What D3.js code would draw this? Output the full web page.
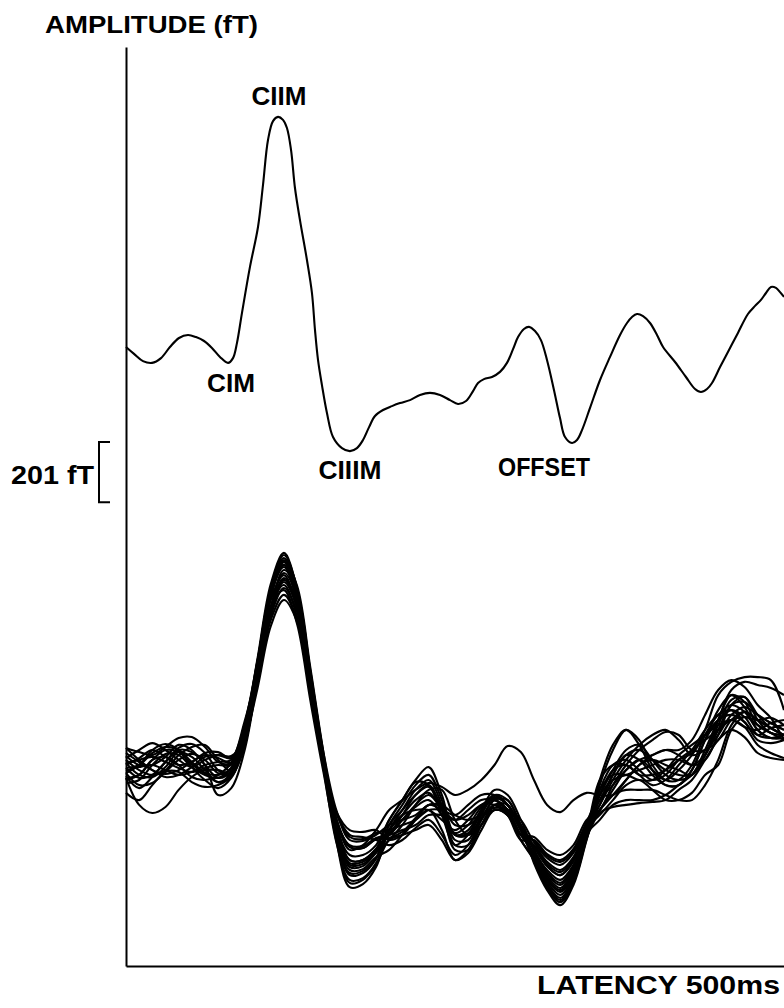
<!DOCTYPE html>
<html>
<head>
<meta charset="utf-8">
<script src="https://cdn.jsdelivr.net/npm/d3@7"></script>
<style>
  html, body { margin: 0; padding: 0; background: #fff; }
  svg { display: block; }
  text { font-family: "Liberation Sans", Arial, Helvetica, sans-serif; font-weight: bold; fill: #000; }
</style>
</head>
<body>
<svg id="chart" width="784" height="1008"></svg>
<script>
// ---- averaged response (upper trace): latency in ms, amplitude in fT ----
const averageLatency = [0, 6.1, 12.9, 19.8, 26.6, 33.4, 40.3, 47.1, 53.2, 59.3, 65.3, 71.4, 77.5, 81.3, 84.3, 88.1,
  94.2, 100.3, 104.1, 107.9, 111.7, 115.5, 119.3, 122.3, 125.4, 128.4, 132.2, 137.5, 141.3, 143.6, 145.9, 148.9,
  152.7, 157.3, 164.1, 170.2, 175.5, 180.1, 184.7, 189.2, 195.3, 202.1, 208.2, 215.8, 223.4, 231.0, 238.6, 246.2,
  252.3, 258.4, 263.7, 267.5, 272.0, 278.1, 284.2, 289.5, 294.1, 297.9, 302.4, 306.2, 310.8, 315.3, 319.9, 325.2,
  329.8, 333.6, 338.9, 342.7, 346.5, 352.6, 360.2, 367.8, 375.4, 380.7, 384.5, 388.3, 392.9, 398.2, 403.5, 408.1,
  417.2, 425.5, 432.4, 436.9, 441.5, 445.3, 451.4, 458.2, 465.0, 472.6, 478.0, 482.5, 486.3, 490.1, 493.9, 497.0, 500.0];
const averageAmplitude = [0, -23, -47, -53, -37, 0, 30, 40, 33, 20, -3, -33, -53, -37, 13, 113,
  267, 400, 540, 690, 753, 767, 757, 730, 657, 530, 423, 290, 180, 57, -43, -127,
  -220, -300, -337, -347, -337, -310, -267, -230, -210, -197, -187, -177, -160, -153, -160, -177,
  -190, -180, -147, -120, -107, -100, -83, -53, -7, 33, 60, 67, 53, 23, -43, -143,
  -237, -300, -320, -310, -277, -203, -110, -33, 40, 80, 100, 110, 103, 80, 40, 0,
  -50, -100, -140, -150, -140, -120, -67, -10, 47, 110, 137, 157, 180, 200, 197, 183, 167];

// ---- named components of the averaged response ----
const componentNames = ["CIM", "CIIM", "CIIIM", "OFFSET"];
const componentLatency = [77.5, 115.5, 170.2, 338.9];
const componentAmplitude = [-53, 767, -347, -320];

// ---- single-sweep responses (lower traces), sampled every 10 ms ----
const sweepLatency = [0, 10, 20, 30, 40, 50, 60, 70, 80, 90, 100, 110, 120, 130, 140, 150, 160, 170, 180, 190,
  200, 210, 220, 230, 240, 250, 260, 270, 280, 290, 300, 310, 320, 330, 340, 350, 360, 370, 380, 390,
  400, 410, 420, 430, 440, 450, 460, 470, 480, 490, 500];

const sweep01 = [-43, -33, 17, 50, 43, 3, -27, -33, -10, 100, 343, 590, 700, 590, 310, 27, -240, -367, -360, -313,
  -200, -133, -67, -33, -117, -250, -250, -167, -100, -133, -217, -310, -390, -433, -373, -237,
  -67, 50, 117, 83, 0, -50, -50, 0, 100, 167, 200, 177, 117, 90, 90];
const sweep02 = [7, 17, 27, 10, -10, -23, -10, 0, 0, 133, 350, 583, 667, 543, 263, 0, -193, -267, -270, -243,
  -233, -217, -200, -167, -167, -183, -150, -117, -117, -150, -233, -267, -323, -350, -307, -203,
  -133, -50, 17, 67, 100, 117, 83, 33, 50, 100, 167, 193, 167, 140, 117];
const sweep03 = [40, 10, -17, -30, -17, 10, 33, 23, 7, 90, 283, 510, 617, 537, 283, 23, -257, -407, -397, -340,
  -217, -167, -150, -150, -183, -217, -183, -133, -117, -150, -200, -327, -417, -467, -400, -250,
  -100, -17, 0, -33, -33, -17, 17, 40, 117, 233, 277, 293, 293, 283, 183];
const sweep04 = [-27, -67, -60, -23, 17, 37, 17, -27, -27, 90, 273, 483, 567, 483, 240, 0, -160, -233, -240, -250,
  -267, -250, -210, -183, -233, -300, -267, -183, -133, -160, -233, -273, -337, -367, -320, -210,
  -167, -117, -67, -50, -83, -117, -117, -93, -33, 0, 117, 160, 133, 107, 83];
const sweep05 = [-10, 0, 40, 60, 50, 10, -27, -57, -37, 60, 307, 557, 683, 597, 327, 43, -197, -317, -317, -280,
  -183, -117, -57, -67, -167, -267, -233, -150, -100, -117, -200, -300, -377, -417, -360, -230,
  -183, -133, -117, -117, -117, -100, -67, -33, 33, 117, 150, 127, 67, 40, 23];
const sweep06 = [-43, -133, -160, -140, -83, -40, -17, -17, -27, 110, 327, 550, 633, 523, 257, 0, -157, -217, -223, -217,
  -250, -233, -183, -133, -150, -183, -167, -133, -133, -167, -250, -250, -297, -317, -280, -190,
  -100, -50, -33, -17, 0, 17, 17, 0, 33, 117, 200, 210, 167, 140, 117];
const sweep07 = [-93, -117, -67, -23, -23, -57, -73, -67, -37, 77, 257, 463, 550, 477, 243, 3, -227, -350, -347, -307,
  -283, -233, -183, -150, -217, -317, -283, -200, -150, -167, -250, -317, -403, -450, -387, -243,
  -160, -140, -133, -127, -123, -117, -83, -50, 17, 83, 117, 93, 40, 23, 17];
const sweep08 = [57, 43, 33, 60, 90, 93, 60, 10, 7, 120, 357, 603, 707, 587, 303, 20, -207, -300, -300, -267,
  -183, -117, -50, -7, -100, -233, -233, -150, -83, -100, -183, -283, -350, -383, -333, -217,
  -50, 0, 0, -33, -67, -50, 0, 50, 117, 167, 183, 143, 100, 123, 133];
const sweep09 = [23, 50, 73, 50, 17, -7, 17, 33, 30, 87, 283, 523, 650, 577, 317, 43, -153, -250, -253, -233,
  -200, -183, -167, -133, -133, -167, -183, -167, -150, -150, -183, -257, -310, -333, -293, -197,
  -117, -33, 33, 50, 17, -17, -33, -33, 33, 133, 217, 227, 167, 123, 100];
const sweep10 = [-10, -43, -33, 10, 57, 70, 40, -17, -37, 107, 310, 527, 600, 493, 237, -10, -260, -383, -377, -327,
  -217, -150, -83, -50, -133, -267, -267, -183, -117, -150, -233, -293, -363, -400, -347, -223,
  -50, 67, 117, 67, -17, -67, -67, -17, 83, 150, 183, 160, 100, 90, 100];
const sweep11 = [17, -17, -33, -17, 33, 60, 67, 17, -20, 80, 317, 560, 677, 583, 310, 33, -183, -283, -267, -217,
  -150, -117, -83, -60, -73, -100, -83, -50, 0, 63, 43, -50, -133, -157, -117, -93,
  -100, -100, -50, 0, 17, 0, -17, -33, 33, 150, 250, 277, 267, 257, 233];
const sweep12 = [-50, -33, 17, 27, 0, -40, -50, -33, 7, 143, 317, 523, 583, 470, 217, -23, -237, -333, -330, -290,
  -233, -167, -100, -67, -150, -283, -283, -200, -133, -150, -233, -240, -283, -300, -267, -183,
  -150, -67, 0, 50, 83, 110, 100, 50, 50, 83, 150, 177, 150, 123, 100];
const sweep13 = [0, 23, 50, 27, 0, 10, 40, 43, 23, 117, 337, 583, 690, 583, 303, 23, -163, -240, -247, -227,
  -217, -200, -183, -150, -150, -167, -133, -100, -100, -133, -217, -297, -370, -410, -353, -227,
  -83, -33, -33, -50, -50, -17, 33, 67, 100, 133, 150, 127, 117, 140, 150];
const sweep14 = [-37, -77, -40, 10, 50, 43, 0, -100, -77, 47, 283, 513, 623, 543, 290, 27, -247, -393, -383, -333,
  -250, -233, -217, -200, -250, -317, -293, -217, -150, -167, -250, -313, -397, -443, -380, -240,
  -150, -100, -83, -83, -83, -100, -117, -117, -67, 17, 133, 177, 150, 123, 100];
const sweep15 = [30, 0, 0, 27, 67, 50, 0, -43, -20, 110, 337, 570, 660, 547, 273, 7, -190, -273, -277, -247,
  -233, -183, -133, -100, -150, -233, -217, -150, -100, -133, -217, -253, -303, -323, -287, -193,
  -100, -17, 50, 67, 17, -33, -50, -33, 50, 150, 233, 210, 133, 107, 100];
const sweep16 = [-20, -7, 0, -17, -33, -23, 0, 10, 17, 107, 280, 497, 590, 510, 260, 10, -220, -340, -337, -293,
  -250, -200, -133, -83, -83, -183, -233, -200, -133, -133, -217, -320, -410, -457, -393, -247,
  -117, -67, -17, 17, 33, 50, 50, 83, 167, 250, 283, 260, 200, 157, 83];
const sweep17 = [7, -33, -40, -7, 43, 27, -17, -57, -27, 93, 333, 570, 667, 557, 283, 13, -220, -327, -323, -287,
  -217, -167, -117, -93, -150, -233, -227, -160, -110, -133, -210, -303, -383, -423, -367, -233,
  -83, 0, 17, -17, -50, -33, 17, 50, 83, 117, 150, 160, 150, 157, 133];
const sweep18 = [-60, -50, 0, 37, 33, -7, -33, -43, -10, 90, 287, 510, 610, 523, 273, 17, -180, -273, -277, -247,
  -243, -223, -177, -133, -140, -200, -200, -167, -143, -150, -200, -273, -337, -367, -320, -210,
  -150, -100, -50, 0, 33, 50, 33, 0, 17, 100, 200, 227, 150, 107, 100];
const sweep19 = [57, 17, -17, -40, -33, -7, 27, 33, 23, 133, 347, 583, 677, 557, 280, 10, -243, -360, -353, -310,
  -200, -150, -100, -73, -140, -233, -233, -177, -117, -117, -200, -283, -357, -393, -340, -220,
  -133, -33, 33, 17, -33, -67, -67, -17, 83, 183, 233, 193, 117, 90, 100];
const sweep20 = [-27, 0, 50, 70, 50, -7, -50, -77, -43, 63, 290, 527, 640, 560, 300, 30, -200, -317, -317, -280,
  -227, -183, -140, -117, -167, -227, -200, -140, -107, -133, -210, -270, -330, -357, -313, -207,
  -150, -83, -17, 17, -17, -50, -17, 33, 100, 150, 167, 143, 83, 73, 83];

const sweeps = [sweep01, sweep02, sweep03, sweep04, sweep05, sweep06, sweep07, sweep08, sweep09, sweep10,
  sweep11, sweep12, sweep13, sweep14, sweep15, sweep16, sweep17, sweep18, sweep19, sweep20];

// calibration bar value
const calibration = 201; // fT

// ---- layout ----
const svg = d3.select("#chart");
const x = d3.scaleLinear().domain([0, 500]).range([126, 784]);
const yAverage = d3.scaleLinear().domain([0, 1000]).range([347, 47]);
const ySweeps = d3.scaleLinear().domain([0, 1000]).range([765, 465]);
const yFrame = d3.scaleLinear().domain([0, 1]).range([966, 47]);

// frame: amplitude axis and latency axis, no ticks
const leftAxis = svg.append("g")
  .attr("transform", `translate(${x(0)},0)`)
  .call(d3.axisLeft(yFrame).tickValues([]).tickSizeOuter(0));
const bottomAxis = svg.append("g")
  .attr("transform", `translate(0,${yFrame(0)})`)
  .call(d3.axisBottom(x).tickValues([]).tickSizeOuter(0));
[leftAxis, bottomAxis].forEach(g => g.select(".domain").attr("stroke", "#000").attr("stroke-width", 2));

// single sweeps
const sweepLine = d3.line()
  .x(d => x(d[0]))
  .y(d => ySweeps(d[1]))
  .curve(d3.curveCatmullRom.alpha(0.5));
svg.append("g").selectAll("path")
  .data(sweeps)
  .join("path")
  .attr("d", s => sweepLine(d3.zip(sweepLatency, s)))
  .attr("fill", "none")
  .attr("stroke", "#000")
  .attr("stroke-width", 2.1)
  .attr("stroke-linejoin", "round");

// averaged response
const averageLine = d3.line()
  .x(d => x(d[0]))
  .y(d => yAverage(d[1]))
  .curve(d3.curveCatmullRom.alpha(0.5));
svg.append("path")
  .attr("d", averageLine(d3.zip(averageLatency, averageAmplitude)))
  .attr("fill", "none")
  .attr("stroke", "#000")
  .attr("stroke-width", 2.1)
  .attr("stroke-linejoin", "round");

// component labels
const labelStyle = {
  CIM:    { dx: 3,   dy: 29,  len: 48 },
  CIIM:   { dx: 1,   dy: -12, len: 55 },
  CIIIM:  { dx: 0,   dy: 28,  len: 63 },
  OFFSET: { dx: -28, dy: 33,  len: 92 }
};
svg.append("g").selectAll("text")
  .data(componentNames.map((n, i) => ({ name: n, lat: componentLatency[i], amp: componentAmplitude[i] })))
  .join("text")
  .attr("x", d => x(d.lat) + labelStyle[d.name].dx)
  .attr("y", d => yAverage(d.amp) + labelStyle[d.name].dy)
  .attr("text-anchor", "middle")
  .attr("font-size", 26)
  .attr("textLength", d => labelStyle[d.name].len)
  .attr("lengthAdjust", "spacingAndGlyphs")
  .text(d => d.name);

// calibration bracket
const barTop = 442;
const barHeight = yAverage(0) - yAverage(calibration);
svg.append("path")
  .attr("d", `M110,${barTop}H99V${barTop + barHeight}H110`)
  .attr("fill", "none")
  .attr("stroke", "#000")
  .attr("stroke-width", 2);
svg.append("text")
  .attr("x", 94).attr("y", 484)
  .attr("text-anchor", "end")
  .attr("font-size", 26)
  .attr("textLength", 83)
  .attr("lengthAdjust", "spacingAndGlyphs")
  .text(`${calibration} fT`);

// axis titles
svg.append("text")
  .attr("x", 45).attr("y", 33)
  .attr("font-size", 24)
  .attr("textLength", 213)
  .attr("lengthAdjust", "spacingAndGlyphs")
  .text("AMPLITUDE (fT)");
svg.append("text")
  .attr("x", 537).attr("y", 994)
  .attr("font-size", 25)
  .attr("textLength", 243)
  .attr("lengthAdjust", "spacingAndGlyphs")
  .text("LATENCY  500ms");
</script>
</body>
</html>
